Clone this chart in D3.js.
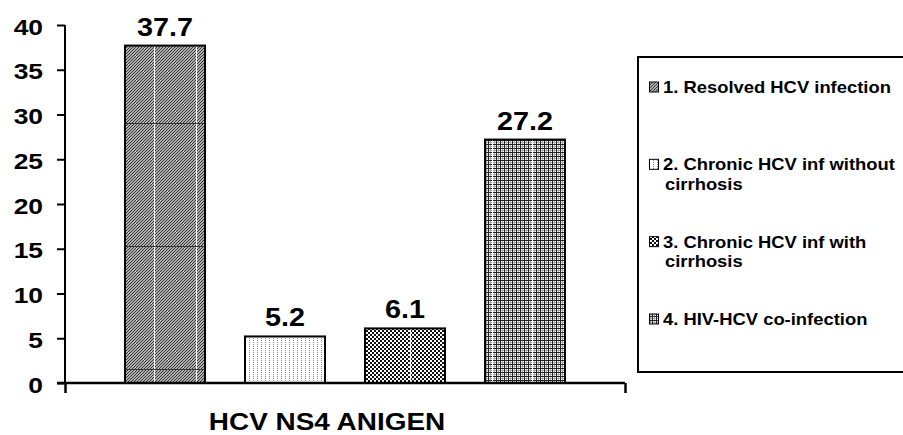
<!DOCTYPE html>
<html><head><meta charset="utf-8">
<script src="https://cdn.jsdelivr.net/npm/d3@7"></script>
<style>body{margin:0;background:#fff}svg{display:block}</style>
</head><body>
<svg id="c" width="903" height="435"></svg>
<script>
const categories = ["1. Resolved HCV infection", "2. Chronic HCV inf without cirrhosis", "3. Chronic HCV inf with cirrhosis", "4. HIV-HCV co-infection"];
const legendLines = [["1. Resolved HCV infection"], ["2. Chronic HCV inf without", "cirrhosis"], ["3. Chronic HCV inf with", "cirrhosis"], ["4. HIV-HCV co-infection"]];
const values = [37.7, 5.2, 6.1, 27.2];
const yTicks = [0, 5, 10, 15, 20, 25, 30, 35, 40];
const xTitle = "HCV NS4 ANIGEN";

const svg = d3.select("#c");
const FONT = "'Liberation Sans', Arial, sans-serif";
const defs = svg.append("defs");

function pat(id, w, h, build) {
  const p = defs.append("pattern").attr("id", id).attr("patternUnits", "userSpaceOnUse")
    .attr("width", w).attr("height", h);
  build(p);
  return p;
}
pat("p1s", 3, 3, p => {
  p.append("rect").attr("width", 3).attr("height", 3).attr("fill", "#b0b0b0");
  [[0, 2], [1, 1], [2, 0]].forEach(([x, y]) => p.append("rect").attr("x", x).attr("y", y).attr("width", 1).attr("height", 1).attr("fill", "#333"));
});
pat("p1", 42, 123, p => {
  p.append("rect").attr("width", 42).attr("height", 123).attr("fill", "url(#p1s)");
  p.append("rect").attr("x", 28).attr("width", 1).attr("height", 123).attr("fill", "#fff");
  p.append("rect").attr("y", 0).attr("width", 42).attr("height", 1).attr("fill", "#333");
});
pat("p2", 4, 2, p => {
  p.append("rect").attr("width", 4).attr("height", 2).attr("fill", "#fff");
  p.append("rect").attr("x", 1).attr("y", 0).attr("width", 1).attr("height", 1).attr("fill", "#8a8a8a");
});
pat("p3s", 4, 4, p => {
  p.append("rect").attr("width", 4).attr("height", 4).attr("fill", "#fff");
  p.append("rect").attr("width", 2).attr("height", 2).attr("fill", "#111");
  p.append("rect").attr("x", 2).attr("y", 2).attr("width", 2).attr("height", 2).attr("fill", "#111");
});
pat("p3", 48, 124, p => {
  p.append("rect").attr("width", 48).attr("height", 124).attr("fill", "url(#p3s)");
  p.append("rect").attr("x", 26).attr("width", 1).attr("height", 124).attr("fill", "#fff");
});
pat("p4s", 4, 4, p => {
  p.append("rect").attr("width", 4).attr("height", 4).attr("fill", "#fff");
  p.append("rect").attr("x", 2).attr("width", 1).attr("height", 4).attr("fill", "#aaa");
  p.append("rect").attr("y", 2).attr("width", 4).attr("height", 1).attr("fill", "#aaa");
  p.append("rect").attr("x", 0).attr("width", 1).attr("height", 4).attr("fill", "#222");
  p.append("rect").attr("y", 0).attr("width", 4).attr("height", 1).attr("fill", "#222");
});
pat("p4", 40, 120, p => {
  p.append("rect").attr("width", 40).attr("height", 120).attr("fill", "url(#p4s)");
  p.append("rect").attr("x", 12).attr("width", 1).attr("height", 120).attr("fill", "#fff");
});
const fills = ["url(#p1)", "url(#p2)", "url(#p3)", "url(#p4)"];
const swFills = ["url(#p1s)", "url(#p2)", "url(#p3s)", "url(#p4s)"];

const x0 = 65, x1 = 625, yTop = 25, yBot = 383;
const x = d3.scaleBand().domain(categories).range([x0, x1]).paddingInner(1 / 3).paddingOuter(0.5);
const y = d3.scaleLinear().domain([0, 40]).range([yBot, yTop]);

function stext(g, tx, ty, str, size, sx, anchor) {
  return g.append("text").attr("transform", `translate(${tx},${ty}) scale(${sx},1)`)
    .attr("text-anchor", anchor || "start").attr("font-family", FONT).attr("font-weight", "bold")
    .attr("font-size", size).attr("fill", "#000").text(str);
}

// bars
svg.append("g").selectAll("rect").data(values).join("rect")
  .attr("x", (d, i) => x(categories[i])).attr("width", x.bandwidth())
  .attr("y", d => y(d)).attr("height", d => y(0) - y(d))
  .attr("fill", (d, i) => fills[i]).attr("stroke", "#000").attr("stroke-width", 2);

// value labels
const lg = svg.append("g");
values.forEach((v, i) => stext(lg, x(categories[i]) + x.bandwidth() / 2, y(v) - 10, v.toFixed(1), 25, 1.15, "middle"));

// y axis
const ya = svg.append("g").attr("transform", `translate(${x0},0)`)
  .call(d3.axisLeft(y).tickValues(yTicks).tickSize(8).tickFormat(""));
ya.selectAll("path,line").attr("stroke", "#000").attr("stroke-width", 2);
ya.select("path").attr("d", `M0,${yTop}V${yBot}`);
yTicks.forEach(t => stext(svg, 43, y(t) + 9.5, String(t), 22, 1.2, "end"));

// x axis
const xs = d3.scaleLinear().domain([0, 1]).range([x0, x1]);
const xa = svg.append("g").attr("transform", `translate(0,${yBot})`)
  .call(d3.axisBottom(xs).tickValues([0, 1]).tickSize(10).tickFormat(""));
xa.selectAll("path,line").attr("stroke", "#000").attr("stroke-width", 2.5);
xa.select("path").attr("d", `M${x0 - 8},0H${x1}`);
stext(svg, 327, 429.5, xTitle, 24.5, 1.14, "middle");

// legend
const L = svg.append("g");
L.append("rect").attr("x", 638).attr("y", 57).attr("width", 280).attr("height", 315)
  .attr("fill", "#fff").attr("stroke", "#000").attr("stroke-width", 2);
const base = d3.scaleLinear().domain([0, 3]).range([93, 325]);
legendLines.forEach((lines, i) => {
  const b = base(i);
  L.append("rect").attr("x", 649.5).attr("y", b - 11).attr("width", 9).attr("height", 10)
    .attr("fill", swFills[i]).attr("stroke", "#000").attr("stroke-width", 1);
  lines.forEach((s, j) => stext(L, j === 0 ? 663 : 665, b + j * 19.5, s, 16, 1.15, "start"));
});
</script>
</body></html>
